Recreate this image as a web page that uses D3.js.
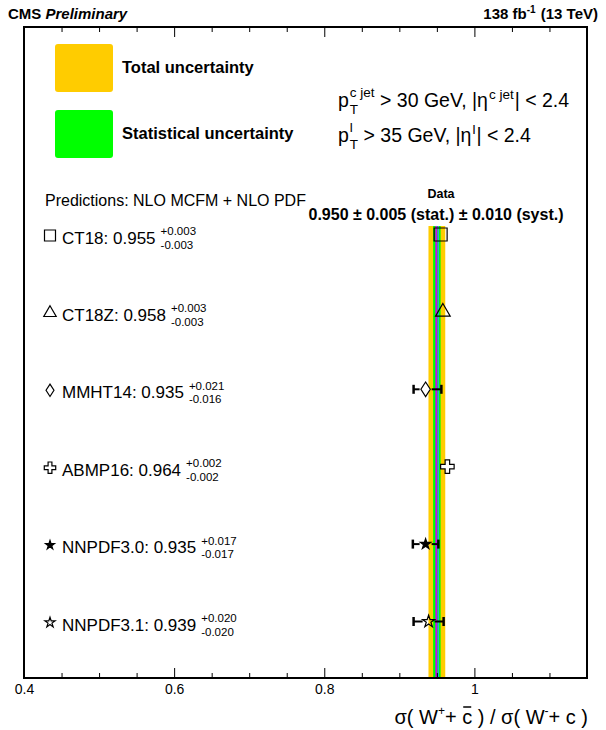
<!DOCTYPE html>
<html>
<head>
<meta charset="utf-8">
<script src="https://cdn.jsdelivr.net/npm/d3@7"></script>
<style>
  body { margin: 0; background: #fff; }
  text { font-family: "Liberation Sans", Arial, sans-serif; }
</style>
</head>
<body>
<div id="chart"></div>
<script>
// predictions
const pdfNames = ["CT18", "CT18Z", "MMHT14", "ABMP16", "NNPDF3.0", "NNPDF3.1"];
const pdfValues = [0.955, 0.958, 0.935, 0.964, 0.935, 0.939];
const pdfErrUp = [0.003, 0.003, 0.021, 0.002, 0.017, 0.020];
const pdfErrDown = [0.003, 0.003, 0.016, 0.002, 0.017, 0.020];
const pdfMarkers = ["square", "triangle", "diamond", "cross", "starFilled", "starOpen"];

// measurement
const dataValue = 0.950;
const dataStat = 0.005;
const dataSyst = 0.010;

const majorTicks = [0.4, 0.6, 0.8, 1.0];
const minorTicks = d3.range(9, 23).filter(i => i % 4 !== 0).map(i => i * 0.05);

const width = 606, height = 730;
const frame = {left: 24, right: 587, top: 27, bottom: 678};

const svg = d3.select("#chart").append("svg")
    .attr("width", width)
    .attr("height", height);

const xScale = d3.scaleLinear().domain([0.4, 1.15]).range([frame.left, frame.right]);
const yScale = d3.scalePoint().domain(pdfNames).range([234.5, 621.5]);

// data band
const total = Math.sqrt(dataStat * dataStat + dataSyst * dataSyst);
const bandTop = 226;
svg.append("rect")
    .attr("x", xScale(dataValue - total))
    .attr("y", bandTop)
    .attr("width", xScale(dataValue + total) - xScale(dataValue - total))
    .attr("height", frame.bottom - bandTop)
    .attr("fill", "#ffcc00");
svg.append("rect")
    .attr("x", xScale(dataValue - dataStat))
    .attr("y", bandTop)
    .attr("width", xScale(dataValue + dataStat) - xScale(dataValue - dataStat))
    .attr("height", frame.bottom - bandTop)
    .attr("fill", "#00ff00");
svg.append("line")
    .attr("x1", xScale(dataValue) - 0.5).attr("x2", xScale(dataValue) - 0.5)
    .attr("y1", bandTop).attr("y2", frame.bottom)
    .attr("stroke", "#cc00ff").attr("stroke-width", 2);
svg.append("line")
    .attr("x1", xScale(dataValue) + 1.5).attr("x2", xScale(dataValue) + 1.5)
    .attr("y1", bandTop).attr("y2", frame.bottom)
    .attr("stroke", "#3399ff").attr("stroke-width", 1);

// axes
const gx = svg.append("g").attr("transform", "translate(0," + frame.bottom + ")");
gx.call(d3.axisBottom(xScale).tickValues(majorTicks).tickSizeInner(-10).tickSizeOuter(0)
    .tickPadding(6).tickFormat(d => String(+d.toFixed(1))));
const gxMinor = svg.append("g").attr("transform", "translate(0," + frame.bottom + ")");
gxMinor.call(d3.axisBottom(xScale).tickValues(minorTicks).tickSizeInner(-5).tickSizeOuter(0).tickFormat(""));
const gt = svg.append("g").attr("transform", "translate(0," + frame.top + ")");
gt.call(d3.axisTop(xScale).tickValues(majorTicks).tickSizeInner(-10).tickSizeOuter(0).tickFormat(""));
const gtMinor = svg.append("g").attr("transform", "translate(0," + frame.top + ")");
gtMinor.call(d3.axisTop(xScale).tickValues(minorTicks).tickSizeInner(-5).tickSizeOuter(0).tickFormat(""));

svg.selectAll(".domain").remove();
svg.selectAll(".tick line").attr("stroke", "#000").attr("stroke-width", 1);
gx.selectAll(".tick text").attr("font-size", 14).attr("fill", "#000")
    .style("font-family", "'Liberation Sans', Arial, sans-serif");

svg.append("rect")
    .attr("x", frame.left).attr("y", frame.top)
    .attr("width", frame.right - frame.left)
    .attr("height", frame.bottom - frame.top)
    .attr("fill", "none").attr("stroke", "#000").attr("stroke-width", 2);

// markers
function markerPath(type, size) {
  if (type === "square") return d3.symbol(d3.symbolSquare, size * size)();
  if (type === "triangle") return d3.symbol(d3.symbolTriangle, size * size * 0.55)();
  if (type === "cross") return d3.symbol(d3.symbolCross, size * size * 0.6)();
  if (type === "diamond") {
    const w = size * 0.36, h = size * 0.56;
    return "M0," + (-h) + "L" + w + ",0L0," + h + "L" + (-w) + ",0Z";
  }
  if (type === "starFilled") return d3.symbol(d3.symbolStar, size * size * 0.2)();
  return d3.symbol(d3.symbolStar, size * size * 0.27)();
}

function drawMarker(g, type, x, y, size) {
  g.append("path")
    .attr("d", markerPath(type, size))
    .attr("transform", "translate(" + x + "," + y + ")")
    .attr("fill", type === "starFilled" ? "#000" : "#fff")
    .attr("fill-opacity", type === "starFilled" || type === "cross" || type === "diamond" ? 1 : 0)
    .attr("stroke", "#000")
    .attr("stroke-width", 1.2);
}

const points = svg.append("g");
const half = 6;
pdfNames.forEach((name, i) => {
  const y = yScale(name);
  const xc = xScale(pdfValues[i]);
  const x0 = xScale(pdfValues[i] - pdfErrDown[i]);
  const x1 = xScale(pdfValues[i] + pdfErrUp[i]);
  [[x0, xc - half], [x1, xc + half]].forEach(([xe, xm]) => {
    if (Math.abs(xe - xc) <= half) return;
    points.append("line").attr("x1", xe).attr("x2", xm).attr("y1", y).attr("y2", y)
        .attr("stroke", "#000").attr("stroke-width", 2);
    points.append("line").attr("x1", xe).attr("x2", xe).attr("y1", y - 4.5).attr("y2", y + 4.5)
        .attr("stroke", "#000").attr("stroke-width", 2.5);
  });
  drawMarker(points, pdfMarkers[i], xc, y, 13);
});

// text helpers
function richText(g, x, y, parts, size, weight) {
  let cx = x;
  parts.forEach(p => {
    if (p.t !== undefined) {
      const t = g.append("text").attr("x", cx).attr("y", y)
          .attr("font-size", size).attr("font-weight", weight || "normal")
          .style("white-space", "pre").text(p.t);
      cx += t.node().getComputedTextLength();
    } else {
      const s = p.size || size * 0.68;
      let w = 0;
      if (p.sup) {
        const a = g.append("text").attr("x", cx + (p.gap || 0)).attr("y", y + p.supDy)
            .attr("font-size", s).attr("font-weight", weight || "normal")
            .style("white-space", "pre").text(p.sup);
        w = Math.max(w, a.node().getComputedTextLength());
      }
      if (p.sub) {
        const b = g.append("text").attr("x", cx + (p.gap || 0)).attr("y", y + p.subDy)
            .attr("font-size", s).attr("font-weight", weight || "normal")
            .style("white-space", "pre").text(p.sub);
        w = Math.max(w, b.node().getComputedTextLength());
      }
      cx += w + (p.gap || 0) + (p.after || 0);
    }
  });
  return cx;
}

// header
svg.append("text").attr("x", 8).attr("y", 19).attr("font-size", 15).attr("font-weight", "bold")
    .html("CMS <tspan font-style='italic'>Preliminary</tspan>");
const lumi = svg.append("g");
const lumiEnd = richText(lumi, 0, 19, [
  {t: "138 fb"}, {sup: "-1", supDy: -6, size: 10, after: 1}, {t: " (13 TeV)"}
], 15, "bold");
lumi.attr("transform", "translate(" + (598 - lumiEnd) + ",0)");

// legend
const legend = svg.append("g");
[["#ffcc00", "Total uncertainty", 44], ["#00ff00", "Statistical uncertainty", 110]].forEach(d => {
  legend.append("rect").attr("x", 55).attr("y", d[2]).attr("width", 58).attr("height", 48)
      .attr("rx", 3).attr("fill", d[0]);
  legend.append("text").attr("x", 122).attr("y", d[2] + 29).attr("font-size", 16.5)
      .attr("font-weight", "bold").text(d[1]);
});

// kinematic cuts
const kin = svg.append("g");
richText(kin, 338, 107, [
  {t: "p"}, {sup: "c jet", supDy: -10, sub: "T", subDy: 7, size: 13.5, gap: 1}, {t: " > 30 GeV, |η"},
  {sup: "c jet", supDy: -8, size: 13.5, gap: 1, after: 1}, {t: "| < 2.4"}
], 19.5);
richText(kin, 338, 142, [
  {t: "p"}, {sup: "l", supDy: -10, sub: "T", subDy: 7, size: 13.5, gap: 1}, {t: " > 35 GeV, |η"},
  {sup: "l", supDy: -8, size: 13.5, gap: 1, after: 1}, {t: "| < 2.4"}
], 19.5);

// predictions header and data label
svg.append("text").attr("x", 45).attr("y", 206).attr("font-size", 16)
    .text("Predictions: NLO MCFM + NLO PDF");
svg.append("text").attr("x", 441).attr("y", 198).attr("font-size", 12.5)
    .attr("font-weight", "bold").attr("text-anchor", "middle").text("Data");
svg.append("text").attr("x", 436).attr("y", 220).attr("font-size", 16)
    .attr("font-weight", "bold").attr("text-anchor", "middle")
    .text(dataValue.toFixed(3) + " \u00b1 " + dataStat.toFixed(3) + " (stat.) \u00b1 " +
          dataSyst.toFixed(3) + " (syst.)");

// prediction labels
const labels = svg.append("g");
pdfNames.forEach((name, i) => {
  const y = yScale(name);
  drawMarker(labels, pdfMarkers[i], 50, y + 1, 11);
  richText(labels, 62, y + 9, [
    {t: name + ": " + pdfValues[i].toFixed(3)},
    {sup: "+" + pdfErrUp[i].toFixed(3), supDy: -8.5, sub: "-" + pdfErrDown[i].toFixed(3), subDy: 5,
     size: 11.5, gap: 5}
  ], 17);
});

// x title
const title = svg.append("g");
const titleEnd = richText(title, 0, 724, [
  {t: "σ( W"}, {sup: "+", supDy: -9, size: 12}, {t: "+ "}, {t: "c"}, {t: " ) / σ( W"},
  {sup: "-", supDy: -9, size: 12}, {t: "+ c )"}
], 20);
// bar over the c
const cText = title.selectAll("text").filter(function() { return this.textContent === "c"; });
const cx0 = +cText.attr("x"), cw = cText.node().getComputedTextLength();
title.append("line").attr("x1", cx0 + 1).attr("x2", cx0 + cw - 1).attr("y1", 707).attr("y2", 707)
    .attr("stroke", "#000").attr("stroke-width", 1.5);
title.attr("transform", "translate(" + (588 - titleEnd) + ",0)");
</script>
</body>
</html>
